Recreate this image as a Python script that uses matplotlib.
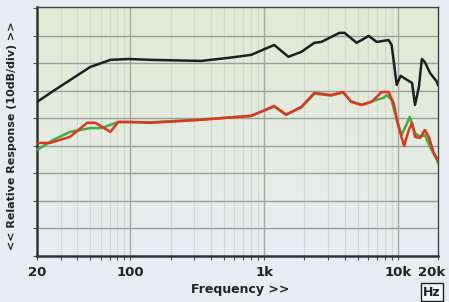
import numpy as np
import matplotlib.pyplot as plt
import matplotlib.transforms as mtransforms
from matplotlib.colors import LinearSegmentedColormap

# frequency (Hz) / level (dB)
black_f = [20, 27.3, 50, 71, 97, 141, 338, 537, 800, 1190, 1520, 1900, 2380, 2680,
           3660, 4000, 4920, 5370, 6060, 6960, 8540, 9000, 9820, 10500, 11740, 12800,
           13460, 14400, 15140, 15950, 17450, 19640, 20000]
black_db = [56.0, 60.4, 68.7, 71.3, 71.6, 71.3, 70.9, 72.0, 73.1, 76.7, 72.4, 74.2, 77.5, 77.8,
            81.1, 81.1, 77.5, 78.5, 80.0, 77.8, 78.5, 76.7, 62.2, 65.5, 64.0, 62.9,
            54.9, 61.5, 71.6, 70.5, 66.5, 63.3, 62.2]

red_f = [20, 25, 35.3, 47.5, 54.6, 65, 70.8, 81, 100, 141, 338, 800, 1190, 1460, 1900,
         2380, 3170, 3900, 4480, 5370, 6380, 7570, 8540, 9300, 10150, 11150, 12100,
         12800, 13460, 14660, 15950, 17050, 18600, 20000]
red_db = [41.1, 41.1, 43.3, 48.4, 48.4, 46.2, 45.1, 48.7, 48.7, 48.4, 49.5, 50.9, 54.5, 51.3, 54.2,
          59.3, 58.5, 59.6, 56.0, 54.9, 56.0, 59.6, 59.6, 55.6, 46.9, 40.0, 45.8,
          48.4, 43.3, 42.9, 45.8, 43.3, 37.5, 34.9]

green_f = [20, 26.4, 35.3, 50, 61, 81, 100, 141, 338, 800, 1190, 1460, 1900,
           2380, 3170, 3900, 4480, 5370, 6380, 7840, 8270, 9000, 9820, 10700, 12300,
           13460, 14660, 15950, 17450, 19640, 20000]
green_db = [38.5, 42.2, 45.1, 46.5, 46.5, 48.7, 48.7, 48.6, 49.6, 51.0, 54.3, 51.5, 54.0,
            59.0, 58.3, 59.4, 56.2, 55.0, 56.2, 57.5, 58.5, 56.7, 49.5, 44.0, 50.5,
            44.7, 43.3, 44.0, 39.6, 34.9, 33.8]

xtick_vals = [20, 100, 1000, 10000, 20000]
xtick_labels = ['20', '100', '1k', '10k', '20k']

fig = plt.figure(figsize=(4.49, 3.02), dpi=100, facecolor='#e9edf1')
ax = fig.add_axes([37/449, 46/302, 401/449, 249/302])

# background gradient, pale green at top to grey-blue at bottom
cmap = LinearSegmentedColormap.from_list('bg', ['#e8edf2', '#e4ebe0', '#e3e9d3'])
grad = np.linspace(0, 1, 256).reshape(-1, 1)
ax.imshow(grad, aspect='auto', cmap=cmap, origin='lower',
          extent=[0, 1, 0, 1], transform=ax.transAxes, zorder=0)

ax.set_xscale('log')
ax.set_xlim(20, 20000)
ax.set_ylim(0, 90.5)

# grid
for f in [30, 40, 50, 60, 70, 80, 90, 200, 300, 400, 500, 600, 700, 800, 900,
          2000, 3000, 4000, 5000, 6000, 7000, 8000, 9000]:
    ax.axvline(f, color='#d2d8d2', lw=0.9, zorder=1)
for f in [100, 1000, 10000]:
    ax.axvline(f, color='#a4aaa4', lw=1.0, zorder=1)
for y in range(10, 90, 10):
    ax.axhline(y, color='#9a9e9a', lw=1.0, zorder=1)

ax.plot(green_f, green_db, color='#3fae3f', lw=1.8, zorder=3)
ax.plot(red_f, red_db, color='#e2341e', lw=1.8, zorder=4)
ax.plot(black_f, black_db, color='#1e1e1e', lw=1.8, zorder=4)

ax.set_xticks(xtick_vals)
ax.set_xticklabels(xtick_labels, fontsize=9.5, fontweight='bold', color='#222222')
ax.xaxis.set_minor_locator(plt.LogLocator(base=10, subs=np.arange(2, 10)))
ax.xaxis.set_minor_formatter(plt.NullFormatter())
ax.tick_params(axis='x', which='both', length=3, width=0.8, color='#555555', pad=4)
ax.set_yticks(range(0, 91, 10))
ax.set_yticklabels([])
ax.tick_params(axis='y', length=3, width=0.8, color='#555555')

# keep "20k" inside the picture
lbl = ax.get_xticklabels()[-1]
lbl.set_transform(lbl.get_transform() + mtransforms.ScaledTranslation(-6/100, 0, fig.dpi_scale_trans))

for side in ['left', 'bottom']:
    ax.spines[side].set_linewidth(1.8)
    ax.spines[side].set_color('#333333')
for side in ['top', 'right']:
    ax.spines[side].set_linewidth(1.0)
    ax.spines[side].set_color('#444444')

fig.text(240/449, 1 - 290/302, 'Frequency >>', ha='center', va='center',
         fontsize=9, fontweight='bold', color='#222222')
fig.text(12/449, 1 - 136/302, '<< Relative Response (10dB/div) >>', ha='center',
         va='center', rotation=90, fontsize=8, fontweight='bold', color='#222222')
fig.text(432/449, 1 - 292/302, 'Hz', ha='center', va='center', fontsize=9,
         fontweight='bold', color='#222222',
         bbox=dict(boxstyle='square,pad=0.2', fc='#f4f6f8', ec='#222222', lw=1.0))

fig.savefig('out.png', dpi=100, facecolor=fig.get_facecolor())
